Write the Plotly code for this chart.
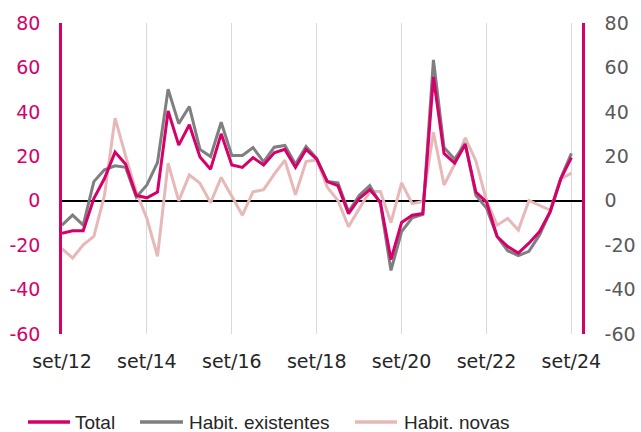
import plotly.graph_objects as go

# quarterly, set/12 .. set/24
quarters = list(range(49))
tick_pos = [0, 8, 16, 24, 32, 40, 48]
tick_text = ["set/12", "set/14", "set/16", "set/18", "set/20", "set/22", "set/24"]
y_ticks = [-60, -40, -20, 0, 20, 40, 60, 80]
y_labels = ["-60", "-40", "-20", "0", "20", "40", "60", "80"]

total = [-14.7, -13.5, -13.5, 1, 10, 21.9, 16.4, 2.4, 1.3, 3.9,
         40.4, 25, 34.2, 19.7, 14.2, 30.1, 16.1, 15, 19.4, 16.1,
         21.6, 23.1, 15, 23.1, 18.7, 8.6, 6.8, -5.8, 0.9, 5,
         -0.6, -26.5, -9.8, -6.5, -5.8, 55.7, 21.3, 16.9, 25.3, 3.9,
         -0.6, -16.1, -20.6, -23.6, -19.1, -13.9, -5, 9.8, 19.4]

existentes = [-11, -6.5, -11, 8.6, 13.9, 15.7, 15, 1.6, 7.1, 17.2,
              50.2, 34.7, 42.4, 23.1, 19.9, 35.3, 20.4, 20.4, 23.9, 17.5,
              24.1, 24.9, 16.4, 24.4, 19.1, 8.6, 8, -5, 2.4, 6.8,
              -1.3, -31.4, -13.9, -7.7, -6.2, 63.4, 23.9, 18.7, 25.8, 2.4,
              -3.3, -16.1, -22.5, -24.7, -22.8, -15.4, -5, 10.1, 21.3]

novas = [-21.6, -25.8, -19.9, -16.1, 2.4, 37.2, 20.1, 3.9, -8, -25,
         16.9, -0.1, 11.6, 7.9, -0.9, 10.5, 2, -6.5, 4, 5,
         12, 18.2, 2.7, 17.6, 18.4, 6.1, 0.1, -11.7, -3.6, 4.1,
         4.1, -9.9, 8, -1.3, -0.3, 30.8, 7.1, 16.4, 28.3, 17.9,
         0.1, -11, -8, -13.2, 0.1, -2.1, -4.3, 9.8, 12.4]

MAGENTA = "#D6006A"
GREY = "#7F7F7F"
PINK = "#E6B9B8"
TICKFONT = dict(family="DejaVu Sans", size=19)

W, H = 641, 432
L, R, T, B = 62, 59, 23, 98
PW, PH = W - L - R, H - T - B

fig = go.Figure()
fig.add_trace(go.Scatter(x=quarters, y=novas, mode="lines", name="Habit. novas",
                         line=dict(color=PINK, width=3)))
fig.add_trace(go.Scatter(x=quarters, y=existentes, mode="lines", name="Habit. existentes",
                         line=dict(color=GREY, width=3)))
fig.add_trace(go.Scatter(x=quarters, y=total, mode="lines", name="Total",
                         line=dict(color=MAGENTA, width=3)))
# dummy trace so the right axis is drawn
fig.add_trace(go.Scatter(x=quarters, y=total, yaxis="y2", mode="lines",
                         line=dict(width=0), showlegend=False, hoverinfo="skip",
                         opacity=0))

# hand-made legend at the bottom (line sample px range, text x px)
legend_items = [("Total", MAGENTA, 28, 70, 73),
                ("Habit. existentes", GREY, 140, 183, 187),
                ("Habit. novas", PINK, 355, 397, 402)]
leg_y = (H - B - 422) / PH
for name, col, x0, x1, xt in legend_items:
    fig.add_shape(type="line", xref="paper", yref="paper",
                  x0=(x0 - L) / PW, x1=(x1 - L) / PW, y0=leg_y, y1=leg_y,
                  line=dict(color=col, width=3.5))
    fig.add_annotation(text=name, xref="paper", yref="paper",
                       x=(xt - L) / PW, y=leg_y, xanchor="left", yanchor="middle",
                       showarrow=False,
                       font=dict(family="Liberation Sans", size=19, color="#262626"))

fig.update_layout(
    width=W, height=H,
    margin=dict(l=L, r=R, t=T, b=B),
    plot_bgcolor="white", paper_bgcolor="white",
    showlegend=False,
    xaxis=dict(range=[0, 49], tickvals=tick_pos, ticktext=tick_text,
               showgrid=True, gridcolor="#D9D9D9", gridwidth=1,
               zeroline=False, showline=False, ticks="", automargin=False,
               ticklabelstandoff=14,
               tickfont=dict(color="#262626", **TICKFONT)),
    yaxis=dict(range=[-60, 80], tickvals=y_ticks, ticktext=y_labels, showgrid=False,
               zeroline=True, zerolinecolor="black", zerolinewidth=1.5,
               showline=True, linecolor=MAGENTA, linewidth=2.5, ticks="",
               ticklabelstandoff=15, automargin=False,
               tickfont=dict(color=MAGENTA, **TICKFONT)),
    yaxis2=dict(range=[-60, 80], tickvals=y_ticks, ticktext=y_labels,
                overlaying="y", side="right",
                showgrid=False, zeroline=False,
                showline=True, linecolor=MAGENTA, linewidth=2.5, ticks="",
                ticklabelstandoff=16, automargin=False,
                tickfont=dict(color="#595959", **TICKFONT)),
)

fig.write_html("out.html", config={"displayModeBar": False},
               post_script="document.body.style.margin='0';")
